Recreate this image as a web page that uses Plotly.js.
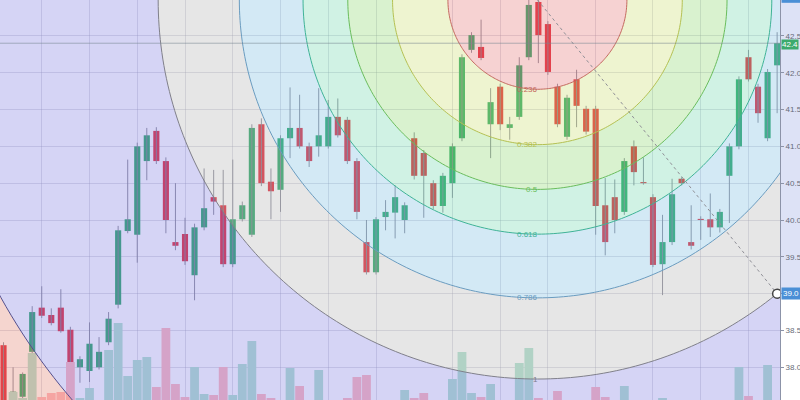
<!DOCTYPE html>
<html><head><meta charset="utf-8">
<script src="https://cdn.plot.ly/plotly-3.0.1.min.js"></script>
<style>html,body{margin:0;padding:0;background:#fff;overflow:hidden}#chart{width:800px;height:400px}</style>
</head><body><div id="chart"></div>
<script>
// ---- data ----
const openP  = [38.30,37.50,37.60,38.21,38.81,38.71,38.81,38.51,38.00,37.95,38.00,38.34,38.85,39.85,39.80,40.80,41.21,40.80,39.70,39.81,39.25,39.90,40.31,40.20,39.40,40.01,39.80,41.30,40.52,40.41,41.11,41.25,41.00,41.00,41.00,41.40,41.36,40.80,39.70,39.29,40.04,40.10,40.00,41.11,40.91,40.50,40.19,40.50,41.11,42.31,42.35,41.30,41.81,41.25,41.40,42.21,42.96,42.66,41.81,41.13,41.91,41.51,41.51,40.20,40.31,40.11,41.00,40.515,40.31,39.40,39.70,40.56,39.70,40.015,40.01,39.90,40.60,41.00,42.21,41.81,41.11,42.10];
const highP  = [38.34,38.00,37.93,38.83,39.10,38.80,39.06,38.55,38.15,38.61,38.41,38.75,39.92,40.82,41.05,41.25,41.26,40.85,40.50,40.03,39.95,40.70,40.68,40.68,40.82,40.25,41.30,41.38,40.70,41.15,41.80,41.70,41.05,41.79,41.63,41.65,41.40,40.84,40.00,40.04,40.27,40.47,40.24,41.19,40.95,40.54,40.64,41.04,42.25,42.55,42.72,41.79,41.85,41.40,42.21,42.99,43.00,42.70,41.85,41.70,42.04,41.55,41.55,40.57,40.55,40.84,41.08,40.85,40.35,40.07,40.56,40.58,40.20,40.05,40.36,40.15,41.04,41.95,42.31,41.85,42.05,42.55];
const lowP   = [37.40,37.45,37.57,38.15,38.67,38.57,38.47,37.96,37.79,37.80,37.97,38.30,38.80,39.82,39.42,40.54,40.76,39.82,39.59,39.39,38.91,39.86,40.07,39.36,39.36,39.98,39.77,40.46,40.01,40.11,40.84,40.97,40.72,40.86,40.97,41.12,40.76,40.01,39.26,39.26,39.86,39.75,39.82,40.55,40.03,40.15,40.10,40.30,41.07,42.27,42.17,40.84,41.22,41.09,41.36,42.17,42.13,41.97,41.26,41.09,41.26,41.16,39.80,39.52,39.82,40.07,40.47,40.48,39.36,38.98,39.66,40.47,39.60,39.73,39.77,39.83,39.96,40.96,41.88,41.32,41.07,41.45];
const closeP = [37.45,37.67,37.91,38.75,38.70,38.60,38.49,38.00,38.11,38.32,38.21,38.66,39.86,40.01,41.00,41.15,40.80,40.00,39.65,39.44,39.90,40.16,40.25,39.40,40.01,40.20,41.25,40.50,40.39,41.11,41.25,41.00,40.80,41.15,41.40,41.15,40.80,40.11,39.29,40.01,40.11,40.31,40.20,40.60,40.60,40.19,40.60,41.00,42.21,42.51,42.20,41.60,41.30,41.30,42.10,42.92,42.51,42.01,41.30,41.66,41.55,41.20,40.19,39.70,40.00,40.80,40.65,40.50,39.39,39.70,40.35,40.50,39.65,40.00,39.90,40.11,41.00,41.91,41.91,41.45,42.01,42.40];
const volume = [50,130,70,520,80,120,130,430,70,170,50,550,820,290,450,480,180,770,210,80,380,110,100,380,100,410,640,110,70,40,370,190,35,350,45,40,70,280,300,40,30,45,150,70,120,40,35,260,530,120,80,210,40,45,420,570,70,40,140,35,40,45,180,80,40,190,35,40,45,70,40,30,40,35,45,40,30,380,90,40,400,45];
const dateGridBars = [4,9,14,19,24,29,34,39,47,52,57,62,68,73,78];
const priceTicks = [38.0,38.5,39.0,39.5,40.0,40.5,41.0,41.5,42.0,42.5];
const priceTickText = ['38.0','38.5','','39.5','40.0','40.5','41.0','41.5','42.0','42.5'];
const fibLevels = [0.236,0.382,0.5,0.618,0.786,1,1.618,2.618];
const fibLabelText = ['0.236','0.382','0.5','0.618','0.786','1'];
const fibAnchorBars = [55.9, 81];
const fibAnchorPrices = [42.99, 39.0];

// ---- styles ----
const upColor = '#4bb57f', downColor = '#e84a58';
const upVol = '#bde6d6', downVol = '#ffc2c7';
const zoneFill = ['rgba(210,30,30,0.2)','rgba(170,200,20,0.2)','rgba(65,190,15,0.2)','rgba(20,190,120,0.2)','rgba(35,145,205,0.2)','rgba(130,130,130,0.2)','rgba(45,40,205,0.2)','rgba(205,45,15,0.2)'];
const ringLine = ['#c4685e','#b5c152','#6abd5c','#3fb397','#6a9cc0','#80808a','#55508e','#c05040'];

const W = 800, H = 400, MR = 20;
const xr = [-0.37, 81.3], yr = [37.556, 42.987];
const pxX = (W - MR) / (xr[1] - xr[0]);
const pxY = H / (yr[1] - yr[0]);
const cx = fibAnchorBars[0], cy = fibAnchorPrices[0];
const R = Math.hypot((fibAnchorBars[1] - cx) * pxX, (fibAnchorPrices[1] - cy) * pxY);

function ring(rPx, reverse) {
  const n = 360; const pts = [];
  for (let k = 0; k <= n; k++) {
    const t = (reverse ? -1 : 1) * 2 * Math.PI * k / n;
    pts.push((cx + rPx * Math.cos(t) / pxX).toFixed(4) + ',' + (cy + rPx * Math.sin(t) / pxY).toFixed(4));
  }
  return 'M' + pts.join('L') + 'Z';
}

const idx = openP.map((_, i) => i);
const isUp = idx.map(i => closeP[i] >= openP[i]);

const wx = [], wy = [];
idx.forEach(i => { wx.push(i, i, null); wy.push(lowP[i], highP[i], null); });

const traces = [
  { type: 'bar', x: idx, y: volume, yaxis: 'y2', width: 0.92,
    marker: { color: idx.map(i => isUp[i] ? upVol : downVol), line: { width: 0 } }, hoverinfo: 'skip' },
  { type: 'scatter', mode: 'lines', x: wx, y: wy, line: { color: 'rgba(150,150,162,0.9)', width: 1 }, hoverinfo: 'skip' },
  { type: 'bar', x: idx, base: idx.map(i => Math.min(openP[i], closeP[i])),
    y: idx.map(i => Math.max(Math.abs(closeP[i] - openP[i]), 0.015)), width: 0.64,
    marker: { color: idx.map(i => isUp[i] ? upColor : downColor), line: { width: 0 } }, hoverinfo: 'skip' }
];

const shapes = [];
shapes.push({ type: 'rect', xref: 'paper', yref: 'paper', x0: 1, x1: 1.03,
  y0: (fibAnchorPrices[1] - yr[0]) / (yr[1] - yr[0]), y1: 1, fillcolor: '#dde2f6', line: { width: 0 }, layer: 'below' });
fibLevels.forEach((L, i) => {
  const path = ring(L * R, false) + (i > 0 ? ring(fibLevels[i - 1] * R, true) : '');
  shapes.push({ type: 'path', xref: 'x', yref: 'y', path, fillcolor: zoneFill[i], fillrule: 'evenodd', line: { width: 0 }, layer: 'above' });
});
fibLevels.forEach((L, i) => {
  shapes.push({ type: 'path', xref: 'x', yref: 'y', path: ring(L * R, false), fillcolor: 'rgba(0,0,0,0)', line: { color: ringLine[i], width: 1 }, layer: 'above' });
});
shapes.push({ type: 'line', xref: 'x', yref: 'y', x0: cx, y0: cy, x1: fibAnchorBars[1], y1: fibAnchorPrices[1],
  line: { color: '#8f8f96', width: 1, dash: 'dot' }, layer: 'above' });
const last = closeP[closeP.length - 1];
shapes.push({ type: 'line', xref: 'paper', yref: 'y', x0: 0, x1: 1, y0: last, y1: last,
  line: { color: 'rgba(120,135,145,0.55)', width: 1 }, layer: 'above' });
shapes.push({ type: 'circle', xref: 'x', yref: 'y', xsizemode: 'pixel', ysizemode: 'pixel',
  xanchor: fibAnchorBars[1], yanchor: fibAnchorPrices[1], x0: -4.5, x1: 4.5, y0: -4.5, y1: 4.5,
  fillcolor: '#ffffff', line: { color: '#444', width: 1.5 }, layer: 'above' });
shapes.push({ type: 'rect', xref: 'paper', yref: 'paper', x0: 1.002, x1: 1.03, y0: 0.993, y1: 1.05, fillcolor: '#4a8fd6', line: { width: 0 }, layer: 'above' });

const annotations = [];
fibLabelText.forEach((t, i) => {
  annotations.push({ x: cx, y: cy - fibLevels[i] * R / pxY, xref: 'x', yref: 'y', text: t, showarrow: false,
    xanchor: 'right', yanchor: 'middle', xshift: 3, font: { size: 8, color: ringLine[i], family: 'Liberation Sans, Arial' } });
});
annotations.push({ xref: 'paper', x: 1, xanchor: 'left', xshift: 1, yref: 'y', y: last, yanchor: 'middle', yshift: -1, text: last.toFixed(1),
  showarrow: false, bgcolor: '#3daa6c', borderpad: 0, font: { size: 8, color: '#ffffff', family: 'Liberation Sans, Arial' } });
annotations.push({ xref: 'paper', x: 1, xanchor: 'left', xshift: 1, yref: 'y', y: fibAnchorPrices[1], yanchor: 'middle', text: fibAnchorPrices[1].toFixed(1),
  showarrow: false, bgcolor: '#4a8fd6', borderpad: 1, font: { size: 8, color: '#ffffff', family: 'Liberation Sans, Arial' } });

const layout = {
  width: W, height: H, margin: { l: 0, r: MR, t: 0, b: 0 },
  paper_bgcolor: '#ffffff', plot_bgcolor: '#ffffff', showlegend: false, barmode: 'overlay',
  font: { family: 'Liberation Sans, Arial', size: 8, color: '#666c78' },
  xaxis: { range: xr, tickmode: 'array', tickvals: dateGridBars, showticklabels: false, ticks: '',
    showgrid: true, gridcolor: 'rgba(165,165,185,0.3)', zeroline: false, automargin: false },
  yaxis: { range: yr, side: 'right', tickmode: 'array', tickvals: priceTicks, ticktext: priceTickText,
    ticks: 'outside', ticklen: 3, tickcolor: '#8c93a8', showline: true, linecolor: '#8c93a8', linewidth: 1,
    showgrid: true, gridcolor: 'rgba(165,165,185,0.3)', zeroline: false, automargin: false,
    tickfont: { size: 8, color: '#666c78' } },
  yaxis2: { overlaying: 'y', range: [50, 4050], visible: false, fixedrange: true },
  shapes, annotations
};

Plotly.newPlot('chart', traces, layout, { staticPlot: true, displayModeBar: false });
</script></body></html>
